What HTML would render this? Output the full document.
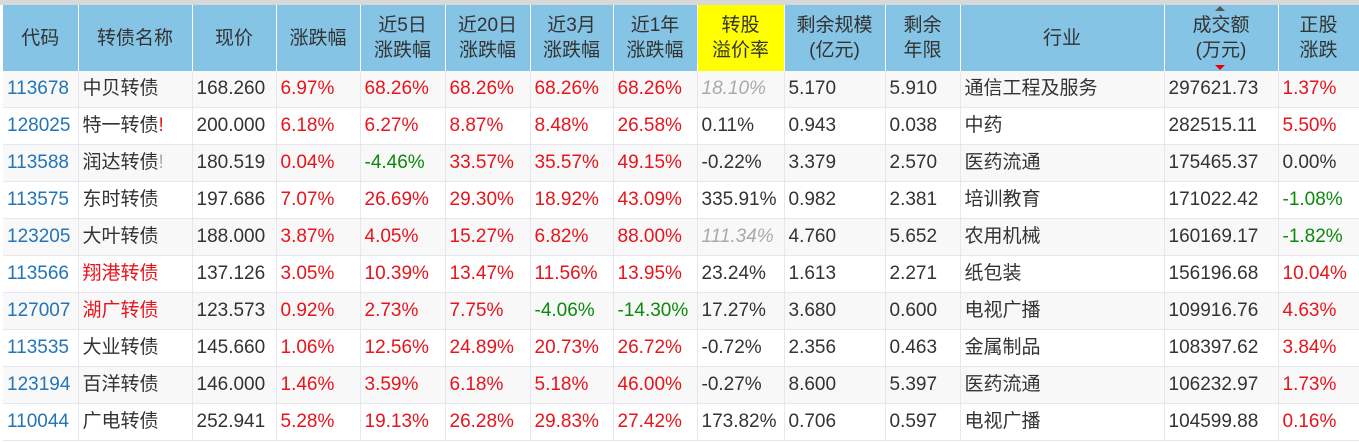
<!DOCTYPE html>
<html><head><meta charset="utf-8"><style>
body{margin:0;width:1359px;height:443px;overflow:hidden;background:#fff;font-family:"Liberation Sans","Noto Sans CJK SC",sans-serif;}
.top{position:absolute;left:0;top:0;width:1359px;height:5px;background:#d8d8d8}
table{position:absolute;left:3px;top:5px;border-collapse:collapse;table-layout:fixed;width:1356px}
th{background:#85c4e4;color:#333;font-weight:normal;font-size:19px;line-height:25px;height:66px;border-right:1px solid #fff;padding:0;text-align:center}
th.y{background:#ffff00}
td{height:36px;line-height:36px;border-bottom:1px solid #e6e6ee;border-right:1px solid #e6e6ee;font-size:19px;color:#333;padding:0 0 0 4px;white-space:nowrap;overflow:hidden}
tr:nth-child(odd) td{background:#f8f8f8}
td.c{color:#2475b5}
td.k span.t{position:relative;top:0}
.r{color:#e8141c}.g{color:#0b8a0b}.i{color:#aaa;font-style:italic}
.ar{position:relative}
</style></head><body>
<div class="top"></div>
<table>
<colgroup><col style="width:75px"><col style="width:114px"><col style="width:84px"><col style="width:84px"><col style="width:85px"><col style="width:85px"><col style="width:83px"><col style="width:84px"><col style="width:87px"><col style="width:101px"><col style="width:75px"><col style="width:204px"><col style="width:114px"><col style="width:81px"></colgroup>
<thead><tr><th>代码</th><th>转债名称</th><th>现价</th><th>涨跌幅</th><th>近5日<br>涨跌幅</th><th>近20日<br>涨跌幅</th><th>近3月<br>涨跌幅</th><th>近1年<br>涨跌幅</th><th class="y">转股<br>溢价率</th><th>剩余规模<br>(亿元)</th><th>剩余<br>年限</th><th>行业</th><th class="ar"><span style="position:absolute;left:50px;top:1px;width:0;height:0;border:5px solid transparent;border-bottom-color:#555;border-top:0"></span>成交额<br>(万元)<span style="position:absolute;left:50px;bottom:1px;width:0;height:0;border:5px solid transparent;border-top-color:#e00;border-bottom:0"></span></th><th>正股<br>涨跌</th></tr></thead>
<tbody>
<tr><td class="c">113678</td><td class="k"><span class="t">中贝转债</span></td><td>168.260</td><td class="r">6.97%</td><td class="r">68.26%</td><td class="r">68.26%</td><td class="r">68.26%</td><td class="r">68.26%</td><td class="i">18.10%</td><td>5.170</td><td>5.910</td><td class="k"><span class="t">通信工程及服务</span></td><td>297621.73</td><td class="r">1.37%</td></tr>
<tr><td class="c">128025</td><td class="k"><span class="t">特一转债<span class="r">!</span></span></td><td>200.000</td><td class="r">6.18%</td><td class="r">6.27%</td><td class="r">8.87%</td><td class="r">8.48%</td><td class="r">26.58%</td><td>0.11%</td><td>0.943</td><td>0.038</td><td class="k"><span class="t">中药</span></td><td>282515.11</td><td class="r">5.50%</td></tr>
<tr><td class="c">113588</td><td class="k"><span class="t">润达转债<span style="color:#aaa">!</span></span></td><td>180.519</td><td class="r">0.04%</td><td class="g">-4.46%</td><td class="r">33.57%</td><td class="r">35.57%</td><td class="r">49.15%</td><td>-0.22%</td><td>3.379</td><td>2.570</td><td class="k"><span class="t">医药流通</span></td><td>175465.37</td><td>0.00%</td></tr>
<tr><td class="c">113575</td><td class="k"><span class="t">东时转债</span></td><td>197.686</td><td class="r">7.07%</td><td class="r">26.69%</td><td class="r">29.30%</td><td class="r">18.92%</td><td class="r">43.09%</td><td>335.91%</td><td>0.982</td><td>2.381</td><td class="k"><span class="t">培训教育</span></td><td>171022.42</td><td class="g">-1.08%</td></tr>
<tr><td class="c">123205</td><td class="k"><span class="t">大叶转债</span></td><td>188.000</td><td class="r">3.87%</td><td class="r">4.05%</td><td class="r">15.27%</td><td class="r">6.82%</td><td class="r">88.00%</td><td class="i">111.34%</td><td>4.760</td><td>5.652</td><td class="k"><span class="t">农用机械</span></td><td>160169.17</td><td class="g">-1.82%</td></tr>
<tr><td class="c">113566</td><td class="k r"><span class="t">翔港转债</span></td><td>137.126</td><td class="r">3.05%</td><td class="r">10.39%</td><td class="r">13.47%</td><td class="r">11.56%</td><td class="r">13.95%</td><td>23.24%</td><td>1.613</td><td>2.271</td><td class="k"><span class="t">纸包装</span></td><td>156196.68</td><td class="r">10.04%</td></tr>
<tr><td class="c">127007</td><td class="k r"><span class="t">湖广转债</span></td><td>123.573</td><td class="r">0.92%</td><td class="r">2.73%</td><td class="r">7.75%</td><td class="g">-4.06%</td><td class="g">-14.30%</td><td>17.27%</td><td>3.680</td><td>0.600</td><td class="k"><span class="t">电视广播</span></td><td>109916.76</td><td class="r">4.63%</td></tr>
<tr><td class="c">113535</td><td class="k"><span class="t">大业转债</span></td><td>145.660</td><td class="r">1.06%</td><td class="r">12.56%</td><td class="r">24.89%</td><td class="r">20.73%</td><td class="r">26.72%</td><td>-0.72%</td><td>2.356</td><td>0.463</td><td class="k"><span class="t">金属制品</span></td><td>108397.62</td><td class="r">3.84%</td></tr>
<tr><td class="c">123194</td><td class="k"><span class="t">百洋转债</span></td><td>146.000</td><td class="r">1.46%</td><td class="r">3.59%</td><td class="r">6.18%</td><td class="r">5.18%</td><td class="r">46.00%</td><td>-0.27%</td><td>8.600</td><td>5.397</td><td class="k"><span class="t">医药流通</span></td><td>106232.97</td><td class="r">1.73%</td></tr>
<tr><td class="c">110044</td><td class="k"><span class="t">广电转债</span></td><td>252.941</td><td class="r">5.28%</td><td class="r">19.13%</td><td class="r">26.28%</td><td class="r">29.83%</td><td class="r">27.42%</td><td>173.82%</td><td>0.706</td><td>0.597</td><td class="k"><span class="t">电视广播</span></td><td>104599.88</td><td class="r">0.16%</td></tr>
</tbody></table>
</body></html>
